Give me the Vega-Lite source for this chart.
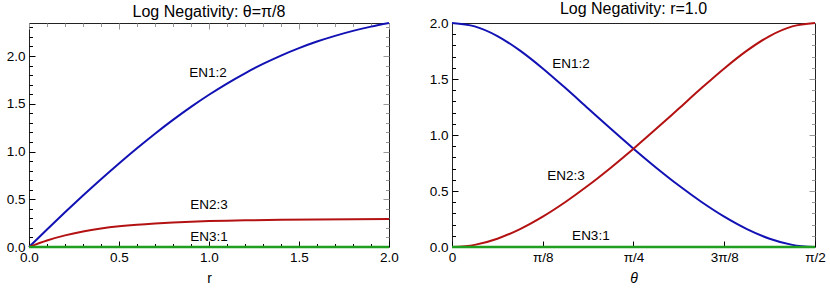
{
  "$schema": "https://vega.github.io/schema/vega-lite/v6.json",
  "padding": {"left": 5, "top": 0, "right": 5, "bottom": 0},
  "background": "white",
  "config": {
    "font": "Liberation Sans",
    "view": {"stroke": "#222", "strokeWidth": 1},
    "title": {"font": "Liberation Sans", "fontSize": 16, "fontWeight": "normal", "color": "#000", "offset": -1},
    "axis": {"grid": false, "domain": false, "labelFont": "Liberation Sans", "labelFontSize": 13.5, "labelColor": "#000", "tickColor": "#000", "titleFont": "Liberation Sans", "titleFontSize": 14, "titleFontWeight": "normal", "titleColor": "#000", "labelFlush": false, "labelOverlap": false}
  },
  "datasets": {
    "left": [
      {"s": "EN1:2", "x": 0, "y": 0}, {"s": "EN1:2", "x": 0.1, "y": 0.1832}, {"s": "EN1:2", "x": 0.2, "y": 0.3630}, {"s": "EN1:2", "x": 0.3, "y": 0.5387}, {"s": "EN1:2", "x": 0.4, "y": 0.7096}, {"s": "EN1:2", "x": 0.5, "y": 0.8750}, {"s": "EN1:2", "x": 0.6, "y": 1.0343}, {"s": "EN1:2", "x": 0.7, "y": 1.1866}, {"s": "EN1:2", "x": 0.8, "y": 1.3311}, {"s": "EN1:2", "x": 0.9, "y": 1.4672}, {"s": "EN1:2", "x": 1.0, "y": 1.5943}, {"s": "EN1:2", "x": 1.1, "y": 1.7118}, {"s": "EN1:2", "x": 1.2, "y": 1.8194}, {"s": "EN1:2", "x": 1.3, "y": 1.9170}, {"s": "EN1:2", "x": 1.4, "y": 2.0047}, {"s": "EN1:2", "x": 1.5, "y": 2.0826}, {"s": "EN1:2", "x": 1.6, "y": 2.1513}, {"s": "EN1:2", "x": 1.7, "y": 2.2112}, {"s": "EN1:2", "x": 1.8, "y": 2.2631}, {"s": "EN1:2", "x": 1.9, "y": 2.3077}, {"s": "EN1:2", "x": 2.0, "y": 2.3457},
      {"s": "EN2:3", "x": 0, "y": 0}, {"s": "EN2:3", "x": 0.1, "y": 0.0683}, {"s": "EN2:3", "x": 0.2, "y": 0.1216}, {"s": "EN2:3", "x": 0.3, "y": 0.1624}, {"s": "EN2:3", "x": 0.4, "y": 0.1932}, {"s": "EN2:3", "x": 0.5, "y": 0.2165}, {"s": "EN2:3", "x": 0.6, "y": 0.2340}, {"s": "EN2:3", "x": 0.7, "y": 0.2473}, {"s": "EN2:3", "x": 0.8, "y": 0.2575}, {"s": "EN2:3", "x": 0.9, "y": 0.2653}, {"s": "EN2:3", "x": 1.0, "y": 0.2713}, {"s": "EN2:3", "x": 1.1, "y": 0.2761}, {"s": "EN2:3", "x": 1.2, "y": 0.2798}, {"s": "EN2:3", "x": 1.4, "y": 0.2851}, {"s": "EN2:3", "x": 1.6, "y": 0.2885}, {"s": "EN2:3", "x": 1.8, "y": 0.2907}, {"s": "EN2:3", "x": 2.0, "y": 0.2922},
      {"s": "EN3:1", "x": 0, "y": 0}, {"s": "EN3:1", "x": 2.0, "y": 0}
    ],
    "leftLabels": [
      {"t": "EN1:2", "x": 0.994, "y": 1.824},
      {"t": "EN2:3", "x": 1.0, "y": 0.442},
      {"t": "EN3:1", "x": 1.0, "y": 0.108}
    ],
    "right": [
      {"s": "EN1:2", "x": 0, "y": 2.0}, {"s": "EN1:2", "x": 0.09817, "y": 1.9696}, {"s": "EN1:2", "x": 0.19635, "y": 1.8834}, {"s": "EN1:2", "x": 0.29452, "y": 1.7534}, {"s": "EN1:2", "x": 0.39270, "y": 1.5943}, {"s": "EN1:2", "x": 0.49087, "y": 1.4188}, {"s": "EN1:2", "x": 0.58905, "y": 1.2368}, {"s": "EN1:2", "x": 0.68722, "y": 1.0550}, {"s": "EN1:2", "x": 0.78540, "y": 0.8777}, {"s": "EN1:2", "x": 0.88357, "y": 0.7082}, {"s": "EN1:2", "x": 0.98175, "y": 0.5488}, {"s": "EN1:2", "x": 1.07992, "y": 0.4022}, {"s": "EN1:2", "x": 1.17810, "y": 0.2713}, {"s": "EN1:2", "x": 1.27627, "y": 0.1603}, {"s": "EN1:2", "x": 1.37445, "y": 0.0742}, {"s": "EN1:2", "x": 1.47262, "y": 0.0191}, {"s": "EN1:2", "x": 1.57080, "y": 0},
      {"s": "EN2:3", "x": 0, "y": 0}, {"s": "EN2:3", "x": 0.09817, "y": 0.0191}, {"s": "EN2:3", "x": 0.19635, "y": 0.0742}, {"s": "EN2:3", "x": 0.29452, "y": 0.1603}, {"s": "EN2:3", "x": 0.39270, "y": 0.2713}, {"s": "EN2:3", "x": 0.49087, "y": 0.4022}, {"s": "EN2:3", "x": 0.58905, "y": 0.5488}, {"s": "EN2:3", "x": 0.68722, "y": 0.7082}, {"s": "EN2:3", "x": 0.78540, "y": 0.8777}, {"s": "EN2:3", "x": 0.88357, "y": 1.0550}, {"s": "EN2:3", "x": 0.98175, "y": 1.2368}, {"s": "EN2:3", "x": 1.07992, "y": 1.4188}, {"s": "EN2:3", "x": 1.17810, "y": 1.5943}, {"s": "EN2:3", "x": 1.27627, "y": 1.7534}, {"s": "EN2:3", "x": 1.37445, "y": 1.8834}, {"s": "EN2:3", "x": 1.47262, "y": 1.9696}, {"s": "EN2:3", "x": 1.57080, "y": 2.0},
      {"s": "EN3:1", "x": 0, "y": 0}, {"s": "EN3:1", "x": 1.5708, "y": 0}
    ],
    "rightLabels": [
      {"t": "EN1:2", "x": 0.5145, "y": 1.6375},
      {"t": "EN2:3", "x": 0.493, "y": 0.631},
      {"t": "EN3:1", "x": 0.601, "y": 0.098}
    ]
  },
  "spacing": 29,
  "hconcat": [
    {
      "width": 360,
      "height": 224,
      "title": "Log Negativity: θ=π/8",
      "data": {"name": "left"},
      "layer": [
        {
          "transform": [{"filter": "datum.s === 'EN1:2'"}],
          "mark": {"type": "line", "color": "#1212b4", "strokeWidth": 2, "interpolate": "monotone"},
          "encoding": {
            "x": {"field": "x", "type": "quantitative", "scale": {"domain": [0, 2], "nice": false},
                  "axis": {"orient": "bottom", "values": [0, 0.5, 1, 1.5, 2], "format": ".1f", "tickSize": -6, "labelPadding": 9, "title": "r", "titlePadding": 8}},
            "y": {"field": "y", "type": "quantitative", "scale": {"domain": [0, 2.3457], "nice": false},
                  "axis": {"orient": "left", "values": [0, 0.5, 1, 1.5, 2], "format": ".1f", "tickSize": -6, "labelPadding": 10, "title": null}}
          }
        },
        {
          "transform": [{"filter": "datum.s === 'EN2:3'"}],
          "mark": {"type": "line", "color": "#b41212", "strokeWidth": 2, "interpolate": "monotone"},
          "encoding": {
            "x": {"field": "x", "type": "quantitative", "scale": {"domain": [0, 2], "nice": false},
                  "axis": {"orient": "bottom", "values": [0.1,0.2,0.3,0.4,0.6,0.7,0.8,0.9,1.1,1.2,1.3,1.4,1.6,1.7,1.8,1.9], "labels": false, "tickSize": -3.5, "title": null}},
            "y": {"field": "y", "type": "quantitative", "scale": {"domain": [0, 2.3457], "nice": false},
                  "axis": {"orient": "left", "values": [0.1,0.2,0.3,0.4,0.6,0.7,0.8,0.9,1.1,1.2,1.3,1.4,1.6,1.7,1.8,1.9,2.1,2.2,2.3], "labels": false, "tickSize": -3.5, "title": null}}
          }
        },
        {
          "transform": [{"filter": "datum.s === 'EN3:1'"}],
          "mark": {"type": "line", "color": "#1f9e1f", "strokeWidth": 2.5},
          "encoding": {
            "x": {"field": "x", "type": "quantitative", "scale": {"domain": [0, 2], "nice": false},
                  "axis": {"orient": "top", "values": [0, 0.5, 1, 1.5, 2], "labels": false, "tickSize": -6, "tickColor": "#999", "title": null}},
            "y": {"field": "y", "type": "quantitative", "scale": {"domain": [0, 2.3457], "nice": false},
                  "axis": {"orient": "right", "values": [0, 0.5, 1, 1.5, 2], "labels": false, "tickSize": -6, "tickColor": "#999", "title": null}}
          }
        },
        {
          "data": {"name": "leftLabels"},
          "mark": {"type": "text", "font": "Liberation Sans", "fontSize": 13.5, "color": "#000", "align": "center", "baseline": "middle"},
          "encoding": {
            "text": {"field": "t"},
            "x": {"field": "x", "type": "quantitative", "scale": {"domain": [0, 2], "nice": false},
                  "axis": {"orient": "top", "values": [0.1,0.2,0.3,0.4,0.6,0.7,0.8,0.9,1.1,1.2,1.3,1.4,1.6,1.7,1.8,1.9], "labels": false, "tickSize": -3.5, "tickColor": "#999", "title": null}},
            "y": {"field": "y", "type": "quantitative", "scale": {"domain": [0, 2.3457], "nice": false},
                  "axis": {"orient": "right", "values": [0.1,0.2,0.3,0.4,0.6,0.7,0.8,0.9,1.1,1.2,1.3,1.4,1.6,1.7,1.8,1.9,2.1,2.2,2.3], "labels": false, "tickSize": -3.5, "tickColor": "#999", "title": null}}
          }
        }
      ],
      "resolve": {"axis": {"x": "independent", "y": "independent"}}
    },
    {
      "width": 363,
      "height": 224,
      "title": "Log Negativity: r=1.0",
      "data": {"name": "right"},
      "layer": [
        {
          "transform": [{"filter": "datum.s === 'EN1:2'"}],
          "mark": {"type": "line", "color": "#1212b4", "strokeWidth": 2, "interpolate": "monotone"},
          "encoding": {
            "x": {"field": "x", "type": "quantitative", "scale": {"domain": [0, 1.5708], "nice": false},
                  "axis": {"orient": "bottom", "values": [0, 0.392699, 0.785398, 1.178097, 1.570796], "labelExpr": "['0','π/8','π/4','3π/8','π/2'][round(datum.value / 0.392699)]", "tickSize": -6, "labelPadding": 9, "title": "θ", "titleFontStyle": "italic", "titlePadding": 8}},
            "y": {"field": "y", "type": "quantitative", "scale": {"domain": [0, 2], "nice": false},
                  "axis": {"orient": "left", "values": [0, 0.5, 1, 1.5, 2], "format": ".1f", "tickSize": -6, "labelPadding": 10, "title": null}}
          }
        },
        {
          "transform": [{"filter": "datum.s === 'EN2:3'"}],
          "mark": {"type": "line", "color": "#b41212", "strokeWidth": 2, "interpolate": "monotone"},
          "encoding": {
            "x": {"field": "x", "type": "quantitative", "scale": {"domain": [0, 1.5708], "nice": false}, "axis": null},
            "y": {"field": "y", "type": "quantitative", "scale": {"domain": [0, 2], "nice": false},
                  "axis": {"orient": "left", "values": [0.1,0.2,0.3,0.4,0.6,0.7,0.8,0.9,1.1,1.2,1.3,1.4,1.6,1.7,1.8,1.9], "labels": false, "tickSize": -3.5, "title": null}}
          }
        },
        {
          "transform": [{"filter": "datum.s === 'EN3:1'"}],
          "mark": {"type": "line", "color": "#1f9e1f", "strokeWidth": 2.5},
          "encoding": {
            "x": {"field": "x", "type": "quantitative", "scale": {"domain": [0, 1.5708], "nice": false}, "axis": null},
            "y": {"field": "y", "type": "quantitative", "scale": {"domain": [0, 2], "nice": false},
                  "axis": {"orient": "right", "values": [0, 0.5, 1, 1.5, 2], "labels": false, "tickSize": -6, "tickColor": "#999", "title": null}}
          }
        },
        {
          "data": {"name": "rightLabels"},
          "mark": {"type": "text", "font": "Liberation Sans", "fontSize": 13.5, "color": "#000", "align": "center", "baseline": "middle"},
          "encoding": {
            "text": {"field": "t"},
            "x": {"field": "x", "type": "quantitative", "scale": {"domain": [0, 1.5708], "nice": false}, "axis": null},
            "y": {"field": "y", "type": "quantitative", "scale": {"domain": [0, 2], "nice": false},
                  "axis": {"orient": "right", "values": [0.1,0.2,0.3,0.4,0.6,0.7,0.8,0.9,1.1,1.2,1.3,1.4,1.6,1.7,1.8,1.9], "labels": false, "tickSize": -3.5, "tickColor": "#999", "title": null}}
          }
        }
      ],
      "resolve": {"axis": {"x": "independent", "y": "independent"}}
    }
  ]
}
